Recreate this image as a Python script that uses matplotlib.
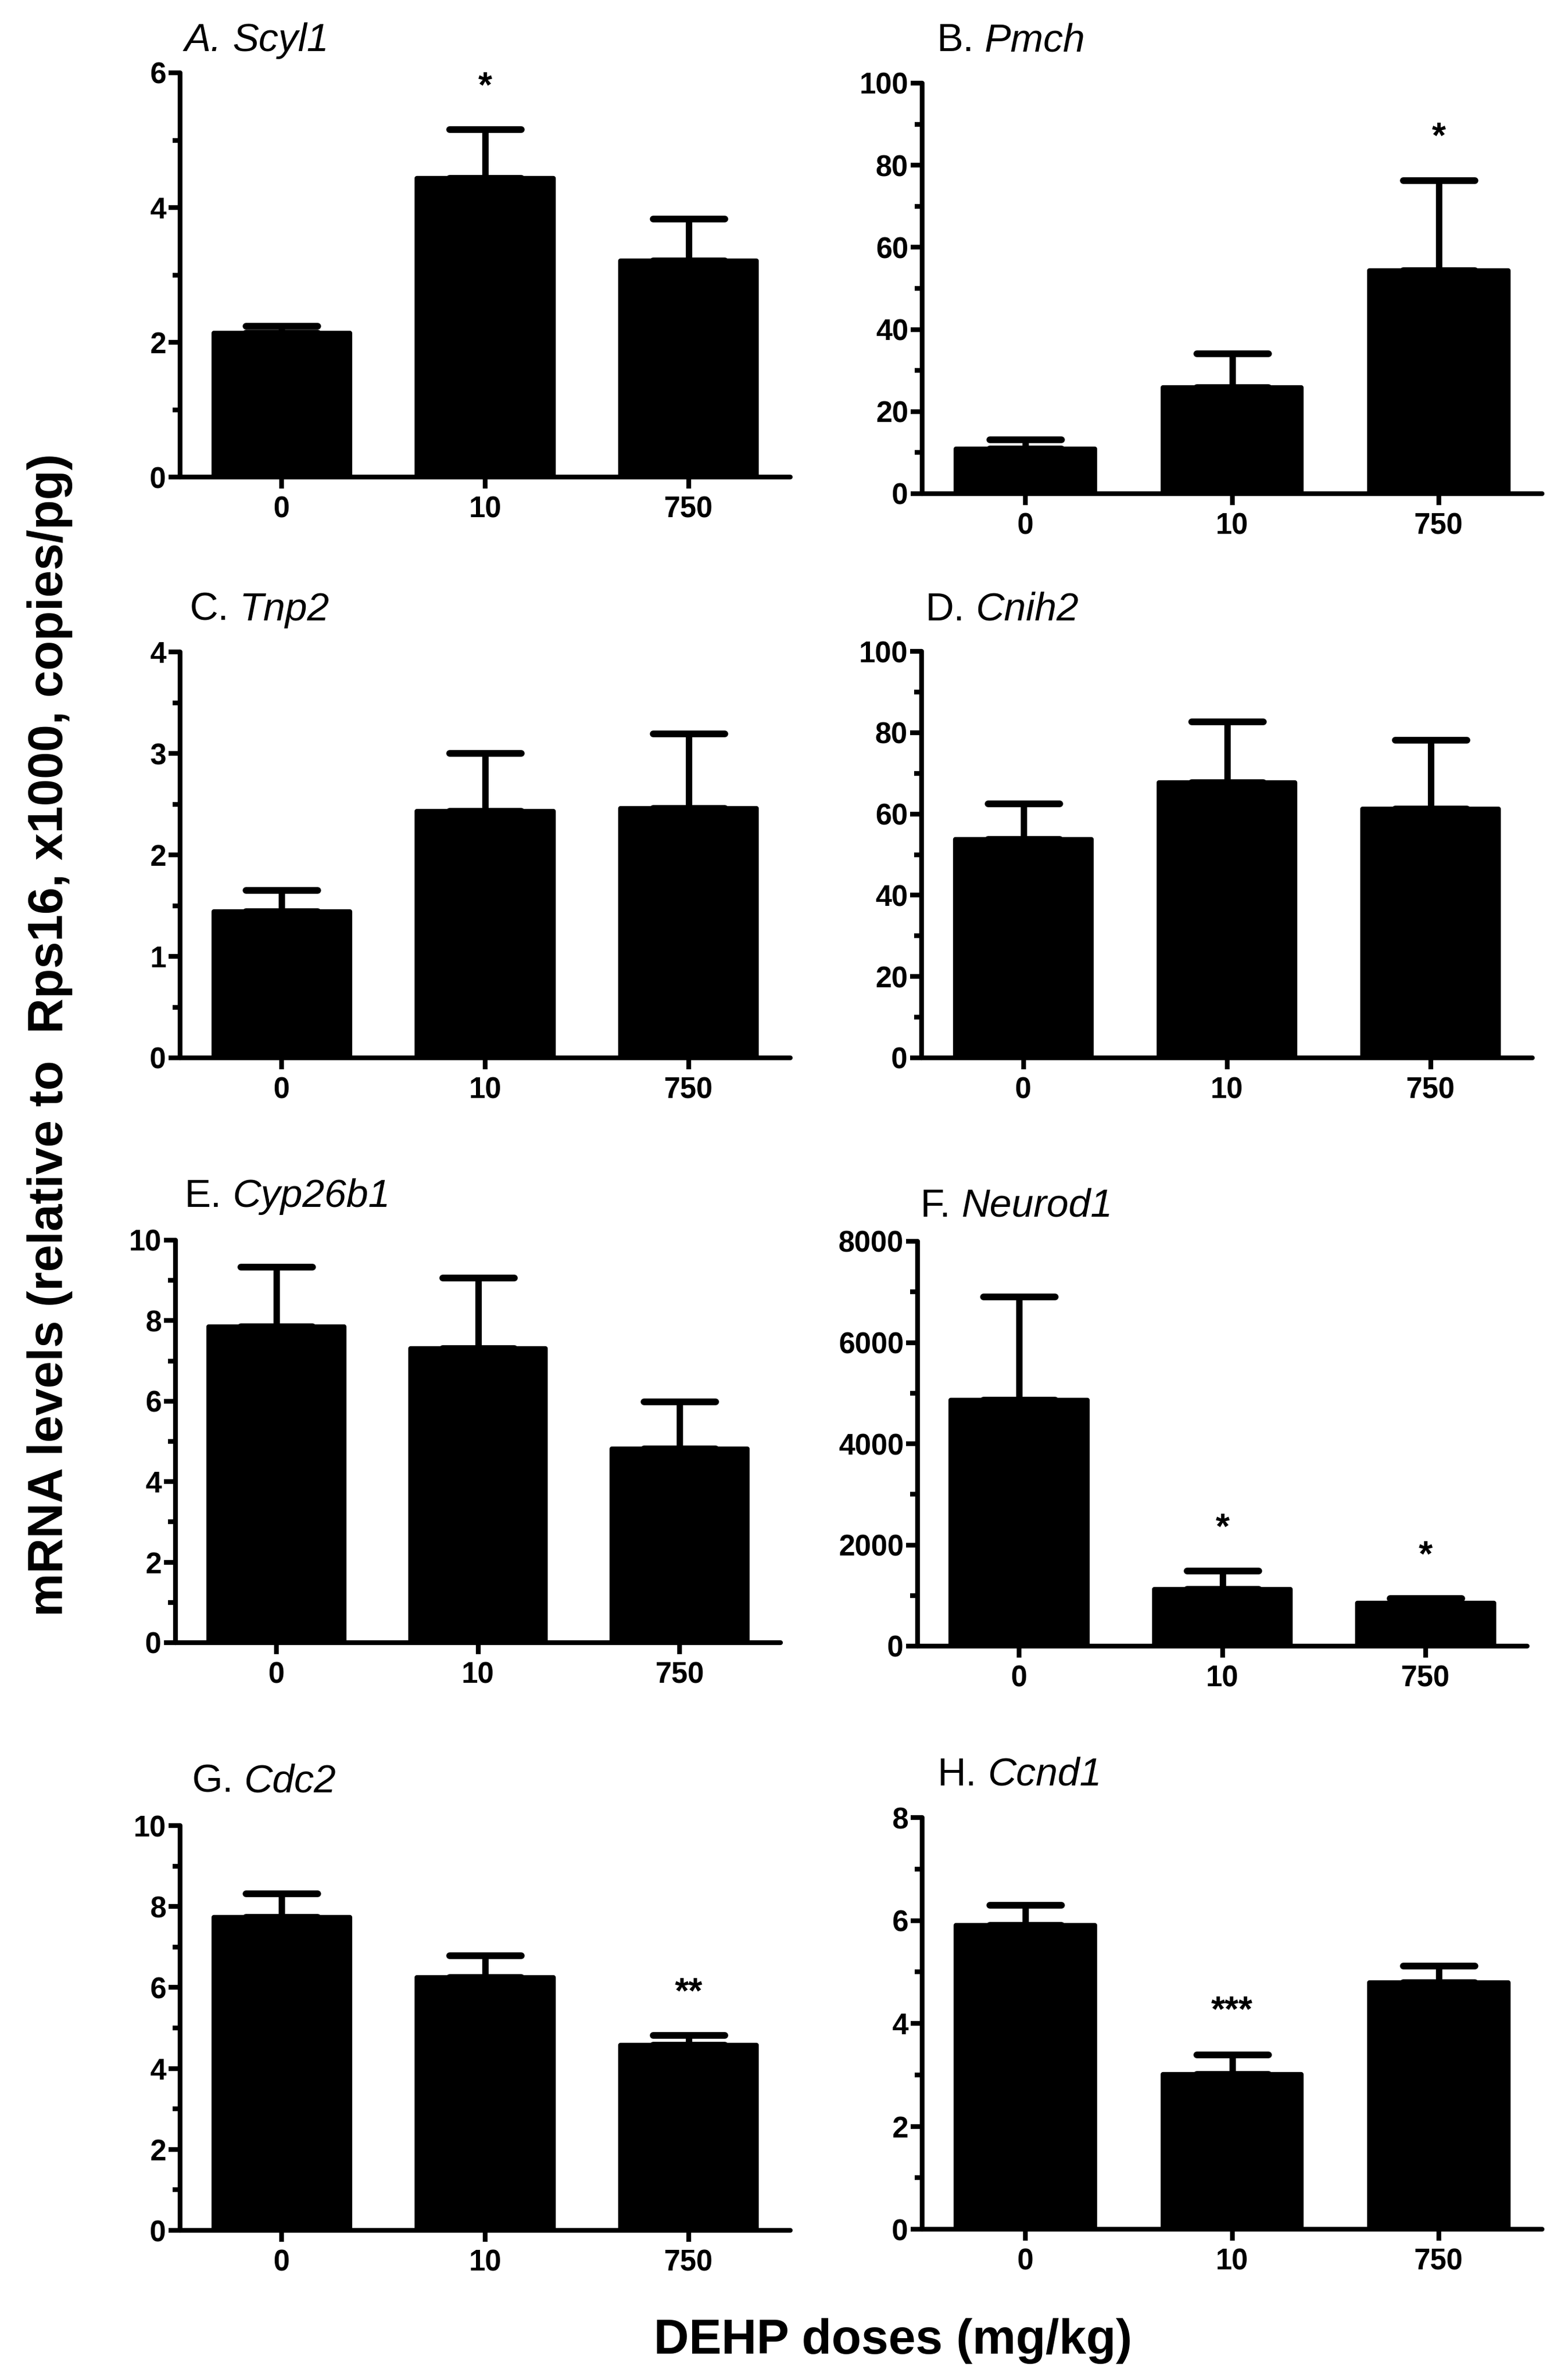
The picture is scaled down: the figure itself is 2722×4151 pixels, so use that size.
import numpy as np
import matplotlib
matplotlib.use("Agg")
import matplotlib.pyplot as plt
from matplotlib.markers import MarkerStyle

plt.rcParams['font.family'] = ['Liberation Sans', 'DejaVu Sans']

# doses on the x axis
doses = ['0', '10', '750']

# mean and SEM (upper error bar only) for each gene
scyl1_mean = [2.14, 4.43, 3.21]
scyl1_sem = [0.10, 0.73, 0.62]
pmch_mean = [10.9, 25.8, 54.3]
pmch_sem = [2.2, 8.3, 22.0]
tnp2_mean = [1.44, 2.43, 2.46]
tnp2_sem = [0.21, 0.57, 0.73]
cnih2_mean = [53.8, 67.7, 61.2]
cnih2_sem = [8.7, 15.0, 16.9]
cyp26b1_mean = [7.85, 7.31, 4.81]
cyp26b1_sem = [1.48, 1.75, 1.18]
neurod1_mean = [4856, 1120, 845]
neurod1_sem = [2044, 361, 94]
cdc2_mean = [7.73, 6.24, 4.57]
cdc2_sem = [0.58, 0.54, 0.25]
ccnd1_mean = [5.91, 3.01, 4.79]
ccnd1_sem = [0.39, 0.38, 0.32]

# significance marks
scyl1_sig = ['', '*', '']
pmch_sig = ['', '', '*']
neurod1_sig = ['', '*', '*']
cdc2_sig = ['', '', '**']
ccnd1_sig = ['', '***', '']
no_sig = ['', '', '']

# y axis: max, major step, minor step
scyl1_y = (6, 2, 1)
pmch_y = (100, 20, 10)
tnp2_y = (4, 1, 0.5)
cnih2_y = (100, 20, 10)
cyp26b1_y = (10, 2, 1)
neurod1_y = (8000, 2000, 1000)
cdc2_y = (10, 2, 1)
ccnd1_y = (8, 2, 1)

W, H = 2722, 4151
fig = plt.figure(figsize=(W / 300, H / 300), dpi=300)

LW = 2.0
TSIZE = 16.5

# letter, gene, data, axes box in pixels (x0, x1, top, bottom), title pos (left, baseline)
panels = [
    ('A.', 'Scyl1', scyl1_mean, scyl1_sem, scyl1_sig, scyl1_y, (314, 1378, 127, 832), (321, 89)),
    ('B.', 'Pmch', pmch_mean, pmch_sem, pmch_sig, pmch_y, (1608, 2689, 145, 861), (1633, 89)),
    ('C.', 'Tnp2', tnp2_mean, tnp2_sem, no_sig, tnp2_y, (314, 1378, 1137, 1845), (330, 1082)),
    ('D.', 'Cnih2', cnih2_mean, cnih2_sem, no_sig, cnih2_y, (1607, 2672, 1136, 1845), (1613, 1082)),
    ('E.', 'Cyp26b1', cyp26b1_mean, cyp26b1_sem, no_sig, cyp26b1_y, (306, 1361, 2163, 2865), (321, 2105)),
    ('F.', 'Neurod1', neurod1_mean, neurod1_sem, neurod1_sig, neurod1_y, (1600, 2663, 2165, 2871), (1604, 2122)),
    ('G.', 'Cdc2', cdc2_mean, cdc2_sem, cdc2_sig, cdc2_y, (314, 1378, 3184, 3890), (334, 3126)),
    ('H.', 'Ccnd1', ccnd1_mean, ccnd1_sem, ccnd1_sig, ccnd1_y, (1608, 2689, 3170, 3888), (1634, 3114)),
]

for letter, gene, mean, sem, sig, ycfg, box, tpos in panels:
    x0, x1, top, bottom = box
    ax = fig.add_axes([x0 / W, 1 - bottom / H, (x1 - x0) / W, (bottom - top) / H])
    x = np.arange(len(doses))
    ax.bar(x, mean, width=0.67, color='black', edgecolor='black', linewidth=LW,
           joinstyle='round', zorder=2)
    eb = ax.errorbar(x, mean, yerr=[np.zeros(len(mean)), sem], fmt='none', ecolor='black',
                     elinewidth=2.7, capsize=15, capthick=2.8, zorder=1)
    for cl in eb[1]:
        cl.set_marker(MarkerStyle('_', capstyle='round'))
        cl.set_markeredgewidth(2.8)
        cl.set_markersize(30)
    ymax, major, minor = ycfg
    for i, s in enumerate(sig):
        if s:
            ax.text(x[i], mean[i] + sem[i] + 0.105 * ymax, s, ha='center', va='center',
                    fontsize=15, fontweight='bold', clip_on=False)
    ax.set_xlim(-0.5, 2.5)
    ax.set_ylim(0, ymax)
    ax.set_xticks(x)
    ax.set_xticklabels(doses)
    majors = np.arange(0, ymax + major / 2, major)
    ax.set_yticks(majors)
    ax.set_yticks(np.arange(minor, ymax, minor), minor=True)
    ax.set_yticklabels(['%g' % v for v in majors])
    for side in ['top', 'right']:
        ax.spines[side].set_visible(False)
    for side in ['left', 'bottom']:
        ax.spines[side].set_linewidth(LW)
        ax.spines[side].set_capstyle('round')
    ax.tick_params(axis='both', which='major', direction='out', width=LW, length=4.8,
                   labelsize=12.3)
    ax.tick_params(axis='y', which='major', pad=1)
    ax.tick_params(axis='x', which='major', pad=3)
    ax.tick_params(axis='y', which='minor', direction='out', width=LW, length=3.1)
    for lab in ax.get_xticklabels() + ax.get_yticklabels():
        lab.set_fontweight('bold')

    # title: panel letter upright (italic for A) followed by italic gene name
    t1 = fig.text(tpos[0] / W, 1 - (tpos[1] + 14) / H, letter, fontsize=TSIZE,
                  ha='left', va='bottom', style='italic' if letter == 'A.' else 'normal')
    ax.annotate(gene, xy=(1, 0), xycoords=t1, xytext=(0.278 * TSIZE, 0),
                textcoords='offset points', fontsize=TSIZE, style='italic',
                ha='left', va='bottom', annotation_clip=False)

fig.text(87 / W, 1 - 1805 / H, 'mRNA levels (relative to  Rps16, x1000, copies/pg)',
         rotation=90, ha='center', va='center', fontsize=20.4, fontweight='bold')
fig.text(1557 / W, 1 - 4105 / H, 'DEHP doses (mg/kg)', ha='center', va='baseline',
         fontsize=20.4, fontweight='bold')

fig.savefig('out.png', dpi=300, facecolor='white')
